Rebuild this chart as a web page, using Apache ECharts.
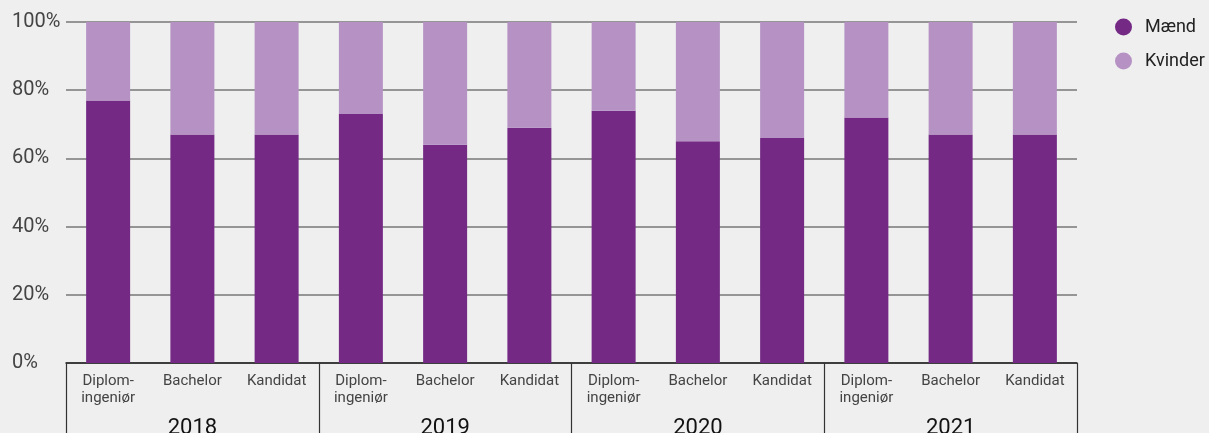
<!DOCTYPE html>
<html>
<head>
<meta charset="utf-8">
<script src="https://cdn.jsdelivr.net/npm/echarts@6/dist/echarts.min.js"></script>
<style>
  html, body { margin: 0; padding: 0; background: #efefef; }
  #chart { width: 1209px; height: 433px; }
</style>
</head>
<body>
<div id="chart"></div>
<script>
// Uddannelser pr. år og andel mænd/kvinder (%)
const educations = ['Diplom-\ningeniør', 'Bachelor', 'Kandidat'];
const years = ['2018', '2019', '2020', '2021'];
const maend   = [77, 67, 67, 73, 64, 69, 74, 65, 66, 72, 67, 67];
const kvinder = [23, 33, 33, 27, 36, 31, 26, 35, 34, 28, 33, 33];
const yTicks = [0, 20, 40, 60, 80, 100];

const categories = [];
years.forEach(() => educations.forEach(e => categories.push(e)));

const fontFamily = 'Roboto, "Noto Sans", sans-serif';
const chart = echarts.init(document.getElementById('chart'));

chart.setOption({
  backgroundColor: '#efefef',
  animation: false,
  textStyle: { fontFamily },
  grid: { left: 66, right: 132, top: 22, bottom: 70, outerBoundsMode: 'none', containLabel: false },
  legend: {
    orient: 'vertical',
    left: 1110,
    top: 13,
    icon: 'circle',
    itemWidth: 17,
    itemHeight: 17,
    itemGap: 16,
    textStyle: { fontSize: 18, color: '#222', fontFamily, padding: [0, 0, 0, 8] }
  },
  xAxis: [
    {
      type: 'category',
      data: categories,
      position: 'bottom',
      axisLine: { lineStyle: { color: '#222', width: 1.5 } },
      axisTick: { show: false },
      axisLabel: {
        interval: 0,
        margin: 10,
        fontSize: 15,
        lineHeight: 17,
        color: '#444',
        fontFamily
      }
    },
    {
      type: 'category',
      data: years,
      position: 'bottom',
      axisLine: { show: false },
      axisTick: { show: true, length: 72, lineStyle: { color: '#333', width: 1.2 } },
      axisLabel: {
        interval: 0,
        margin: 54,
        fontSize: 22,
        color: '#111',
        fontFamily
      }
    }
  ],
  yAxis: {
    type: 'value',
    min: yTicks[0],
    max: yTicks[yTicks.length - 1],
    interval: 20,
    axisLine: { show: false },
    axisTick: { show: false },
    splitLine: { lineStyle: { color: '#777', width: 1.5 } },
    axisLabel: {
      formatter: '{value}%',
      align: 'left',
      margin: 54,
      fontSize: 20,
      color: '#444',
      fontFamily
    }
  },
  series: [
    {
      name: 'Mænd',
      type: 'bar',
      stack: 'total',
      xAxisIndex: 0,
      barWidth: 44,
      itemStyle: { color: '#742a85' },
      data: maend
    },
    {
      name: 'Kvinder',
      type: 'bar',
      stack: 'total',
      xAxisIndex: 0,
      barWidth: 44,
      itemStyle: { color: '#b692c4' },
      data: kvinder
    }
  ]
});
</script>
</body>
</html>
